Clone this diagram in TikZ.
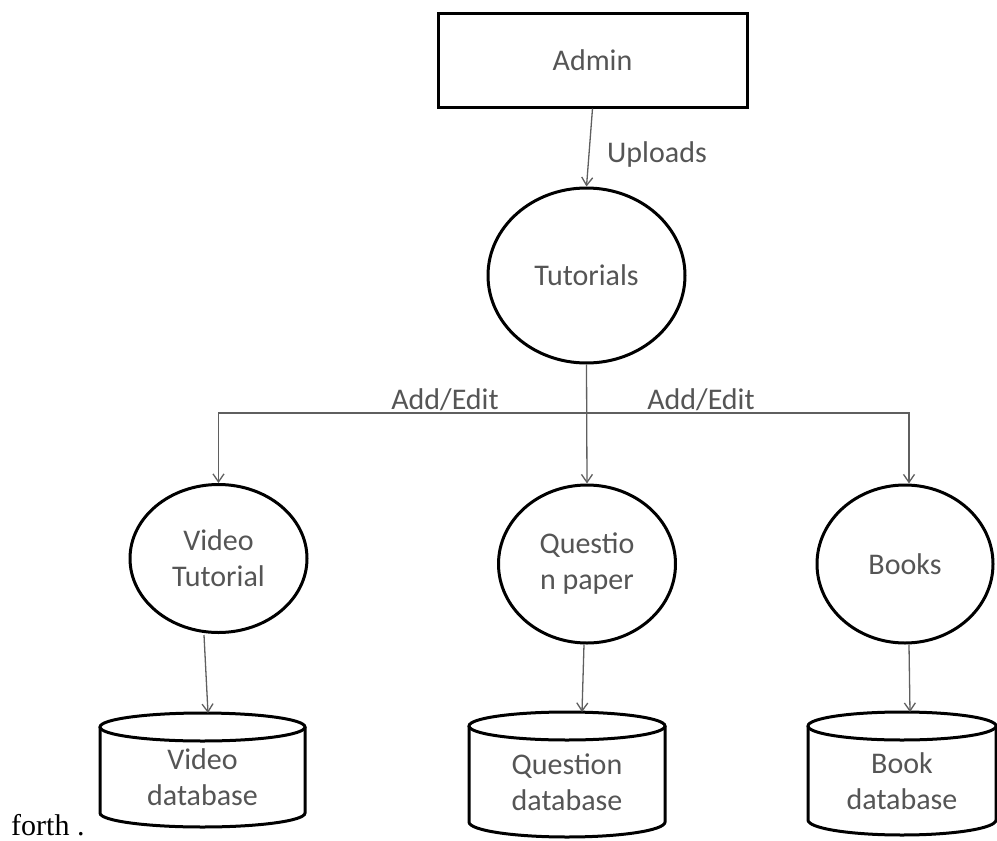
\documentclass[tikz,border=0pt]{standalone}
\usepackage{fontspec}
\setmainfont{Carlito}
\newfontfamily\serifbody{Liberation Serif}
\usetikzlibrary{shapes.geometric,arrows.meta}

\definecolor{labelgray}{RGB}{85,85,85}
\definecolor{linkgray}{RGB}{95,95,95}

\tikzset{
  diag/.style={font=\fontsize{30}{36}\selectfont, text=labelgray, align=center},
  entity/.style={diag, draw=black, line width=3pt, rectangle, inner sep=0pt,
                 minimum width=309pt, minimum height=94pt},
  process/.style={diag, draw=black, line width=3pt, ellipse, inner sep=0pt},
  store/.style={draw=black, line width=3pt},
  flow/.style={draw=linkgray, line width=1.3pt,
               -{Straight Barb[length=8pt,width=11pt,line width=1.3pt]}},
  flowline/.style={draw=linkgray, line width=1.3pt},
  flowlabel/.style={diag, inner sep=0pt}
}

\begin{document}
\begin{tikzpicture}[x=1pt, y=-1pt]
  \useasboundingbox (0,0) rectangle (997,841);

  % external entity and main process
  \node[entity] (admin) at (592.5,60) {Admin};
  \node[process, minimum width=197pt, minimum height=175pt] (tut) at (586.5,275.5) {Tutorials};

  % sub-processes
  \node[process, minimum width=177pt, minimum height=148pt] (vt) at (218.5,558.5) {Video\\Tutorial};
  \node[process, minimum width=177pt, minimum height=158pt] (qp) at (587,564) {Questio\\n paper};
  \node[process, minimum width=176pt, minimum height=158pt] (bk) at (905,564) {Books};

  % data stores drawn as cylinders
  \draw[store] (100,727) -- (100,813) arc[start angle=180, end angle=0, x radius=102.5, y radius=14] -- (305,727);
  \draw[store] (202.5,727) ellipse [x radius=102.5, y radius=14];
  \node[diag] (vdb) at (202.5,777) {Video\\database};
  \coordinate (vdbin) at (208,713);

  \draw[store] (469,726) -- (469,822) arc[start angle=180, end angle=0, x radius=98, y radius=15] -- (665,726);
  \draw[store] (567,726) ellipse [x radius=98, y radius=14];
  \node[diag] (qdb) at (567,782) {Question\\database};
  \coordinate (qdbin) at (582,712);

  \draw[store] (808,726) -- (808,820) arc[start angle=180, end angle=0, x radius=94, y radius=15] -- (996,726);
  \draw[store] (902,726) ellipse [x radius=94, y radius=14];
  \node[diag] (bdb) at (902,781) {Book\\database};
  \coordinate (bdbin) at (910,712);

  % flows
  \draw[flow] (admin.south) -- (tut.north);
  \node[flowlabel] (uploads) at (657,154) {Uploads};

  \coordinate (bus) at (587,413);
  \draw[flow] (tut.south) -- (qp.north);
  \draw[flow] (bus) -| (vt.north);
  \draw[flow] (bus) -| ([xshift=4pt]bk.north);
  \node[flowlabel] (addl) at (445,400) {Add/Edit};
  \node[flowlabel] (addr) at (701,400) {Add/Edit};

  \draw[flow] ([xshift=-14.5pt,yshift=-1pt]vt.south) -- (vdbin);
  \draw[flow] ([xshift=-3pt]qp.south) -- (qdbin);
  \draw[flow] ([xshift=4pt]bk.south) -- (bdbin);

  % running text beside the diagram
  \node[anchor=base west, inner sep=0pt, font=\serifbody\fontsize{30}{36}\selectfont] (forth) at (11,835) {forth .};
\end{tikzpicture}
\end{document}
